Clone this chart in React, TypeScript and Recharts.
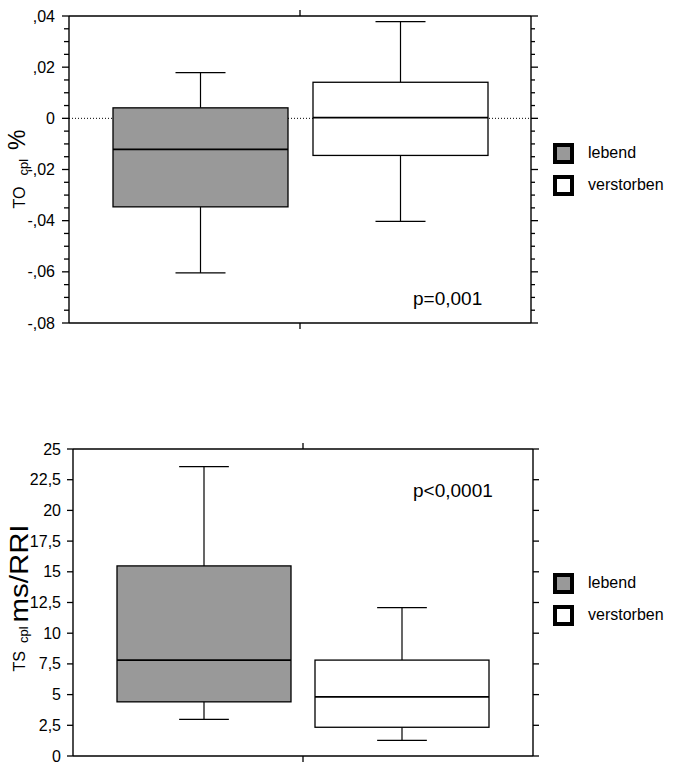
import React from 'react'
import { ComposedChart, Bar, XAxis, YAxis, CartesianGrid } from 'recharts'

const groups = ['lebend', 'verstorben']
const boxFills = ['#999999', '#ffffff']

// TO cpl % (upper chart)
const toMin = [-0.0604, -0.0403]
const toQ1 = [-0.0346, -0.0145]
const toMed = [-0.0121, 0.0003]
const toQ3 = [0.0041, 0.0141]
const toMax = [0.0179, 0.0378]
const toTicks = [0.04, 0.02, 0, -0.02, -0.04, -0.06, -0.08]
const toTickLabels = [',04', ',02', '0', '-,02', '-,04', '-,06', '-,08']
const toP = 'p=0,001'

// TS cpl ms/RRI (lower chart)
const tsMin = [2.99, 1.28]
const tsQ1 = [4.41, 2.34]
const tsMed = [7.81, 4.81]
const tsQ3 = [15.48, 7.81]
const tsMax = [23.56, 12.08]
const tsTicks = [0, 2.5, 5, 7.5, 10, 12.5, 15, 17.5, 20, 22.5, 25]
const tsTickLabels = ['0', '2,5', '5', '7,5', '10', '12,5', '15', '17,5', '20', '22,5', '25']
const tsP = 'p<0,0001'

const FONT = '"Liberation Sans", Arial, sans-serif'

const makeRows = (mn: number[], q1: number[], md: number[], q3: number[], mx: number[]) =>
  groups.map((g, i) => ({ group: g, min: mn[i], q1: q1[i], med: md[i], q3: q3[i], max: mx[i], fill: boxFills[i] }))

const toRows = makeRows(toMin, toQ1, toMed, toQ3, toMax)
const tsRows = makeRows(tsMin, tsQ1, tsMed, tsQ3, tsMax)

// quarter steps between the labelled ticks of the upper chart
const toAllTicks = Array.from({ length: 25 }, (_, i) => +(-0.08 + i * 0.005).toFixed(3))

const BoxShape = (props: any) => {
  const { x, y, width, height, payload } = props
  const top = Math.min(y, y + height)
  const h = Math.abs(height)
  const k = h / (payload.q3 - payload.q1)
  const py = (v: number) => top + (payload.q3 - v) * k
  const cx = x + width / 2
  const cap = (width * 2) / 7
  const s = { stroke: '#000', strokeWidth: 1.2 }
  return (
    <g>
      <line x1={cx} x2={cx} y1={py(payload.max)} y2={top} {...s} />
      <line x1={cx - cap / 2} x2={cx + cap / 2} y1={py(payload.max)} y2={py(payload.max)} {...s} />
      <line x1={cx} x2={cx} y1={top + h} y2={py(payload.min)} {...s} />
      <line x1={cx - cap / 2} x2={cx + cap / 2} y1={py(payload.min)} y2={py(payload.min)} {...s} />
      <rect x={x} y={top} width={width} height={h} fill={payload.fill} stroke="#000" strokeWidth={1.3} />
      <line x1={x} x2={x + width} y1={py(payload.med)} y2={py(payload.med)} stroke="#000" strokeWidth={1.7} />
    </g>
  )
}

const makeTick =
  (side: 'left' | 'right', majors: number[], labels: string[] | null, tickSize: number, majorLen: number, minorLen: number, gap: number) =>
  (props: any) => {
    const { x, y, payload } = props
    const i = majors.findIndex((m) => Math.abs(m - payload.value) < 1e-9)
    const len = i >= 0 ? majorLen : minorLen
    const axisX = side === 'left' ? x + tickSize : x - tickSize
    const x2 = side === 'left' ? axisX - len : axisX + len
    return (
      <g>
        <line x1={axisX} x2={x2} y1={y} y2={y} stroke="#000" strokeWidth={1.3} />
        {labels && i >= 0 && (
          <text x={axisX - tickSize - gap} y={y} dy={5.5} textAnchor="end" fontSize={16} fontFamily={FONT} fill="#000">
            {labels[i]}
          </text>
        )}
      </g>
    )
  }

// short tick on the boundary between two groups (band centre + half a band), drawn outwards
const makeMidTick = (side: 'top' | 'bottom', size: number) => (props: any) => {
  const { x, y, payload, index, visibleTicksCount } = props
  if (index >= visibleTicksCount - 1 || !payload?.offset) return <g />
  const mx = x + payload.offset
  const edge = side === 'bottom' ? y - size : y + size
  return <line x1={mx} x2={mx} y1={edge} y2={y} stroke="#000" strokeWidth={1.3} />
}

const TitleTO = () => (
  <text transform="rotate(-90)" x={-169} y={25} textAnchor="middle" fontFamily={FONT} fill="#000">
    <tspan fontSize={16}>TO</tspan>
    <tspan fontSize={13} dx={11} dy={3}>cpl</tspan>
    <tspan fontSize={23} dx={9} dy={-3}>%</tspan>
  </text>
)

const TitleTS = () => (
  <text transform="rotate(-90)" x={-218} y={25} textAnchor="middle" fontFamily={FONT} fill="#000">
    <tspan fontSize={16}>TS</tspan>
    <tspan fontSize={13} dx={8} dy={3}>cpl</tspan>
    <tspan fontSize={26} dx={4} textLength={98} lengthAdjust="spacingAndGlyphs">ms/RRI</tspan>
  </text>
)

const LegendBox = ({ top }: { top: number }) => (
  <div style={{ position: 'absolute', left: 553, top, fontFamily: FONT, fontSize: 16, lineHeight: 1 }}>
    {groups.map((g, i) => (
      <div key={g} style={{ position: 'relative', height: 32 }}>
        <div
          style={{
            position: 'absolute',
            left: 0,
            top: 0,
            width: 13,
            height: 13,
            border: '4px solid #000',
            background: boxFills[i],
          }}
        />
        <div style={{ position: 'absolute', left: 35, top: 2 }}>{g}</div>
      </div>
    ))}
  </div>
)

const PText = ({ top, text }: { top: number; text: string }) => (
  <div style={{ position: 'absolute', left: 413, top, fontFamily: FONT, fontSize: 19, lineHeight: 1 }}>{text}</div>
)

const axisLine = { stroke: '#000', strokeWidth: 1.4 }

export default function App() {
  return (
    <div style={{ position: 'absolute', left: 0, top: 0, width: 676, height: 763, background: '#fff' }}>
      <div style={{ position: 'absolute', left: 0, top: 0 }}>
        <ComposedChart width={676} height={350} data={toRows} margin={{ top: 15, right: 135, bottom: 26, left: 9 }}>
          <CartesianGrid xAxisId="cat" vertical={false} horizontalValues={[0]} stroke="#000" strokeDasharray="1 2" />
          <XAxis xAxisId="cat" dataKey="group" type="category" padding={{ left: 31, right: 31 }} height={1} tickSize={6} tickMargin={0} tickLine={false} tick={makeMidTick('bottom', 6)} axisLine={axisLine} />
          <XAxis xAxisId="catTop" orientation="top" dataKey="group" type="category" padding={{ left: 31, right: 31 }} height={1} tickSize={6} tickMargin={0} tickLine={false} tick={makeMidTick('top', 6)} axisLine={axisLine} />
          <YAxis
            domain={[-0.08, 0.04]}
            allowDataOverflow
            ticks={toAllTicks}
            interval={0}
            width={60}
            tickSize={7}
            tickMargin={0}
            tickLine={false}
            axisLine={axisLine}
            tick={makeTick('left', toTicks, toTickLabels, 7, 7, 5, 7)}
            label={<TitleTO />}
          />
          <YAxis
            yAxisId="right"
            orientation="right"
            domain={[-0.08, 0.04]}
            allowDataOverflow
            ticks={toAllTicks}
            interval={0}
            width={10}
            tickSize={7}
            tickMargin={0}
            tickLine={false}
            axisLine={axisLine}
            tick={makeTick('right', toTicks, null, 7, 7, 4, 0)}
          />
          <Bar xAxisId="cat" dataKey={(d: any) => [d.q1, d.q3]} barSize={175} shape={BoxShape} isAnimationActive={false} />
        </ComposedChart>
      </div>
      <LegendBox top={143} />
      <PText top={289} text={toP} />

      <div style={{ position: 'absolute', left: 0, top: 380 }}>
        <ComposedChart width={676} height={383} data={tsRows} margin={{ top: 68, right: 133, bottom: 6, left: 13 }}>
          <XAxis xAxisId="cat" dataKey="group" type="category" padding={{ left: 32, right: 32 }} height={1} tickSize={6} tickMargin={0} tickLine={false} tick={makeMidTick('bottom', 6)} axisLine={axisLine} />
          <XAxis xAxisId="catTop" orientation="top" dataKey="group" type="category" padding={{ left: 32, right: 32 }} height={1} tickSize={6} tickMargin={0} tickLine={false} tick={makeMidTick('top', 6)} axisLine={axisLine} />
          <YAxis
            domain={[0, 25]}
            allowDataOverflow
            ticks={tsTicks}
            interval={0}
            width={60}
            tickSize={6}
            tickMargin={0}
            tickLine={false}
            axisLine={axisLine}
            tick={makeTick('left', tsTicks, tsTickLabels, 6, 6, 6, 6)}
            label={<TitleTS />}
          />
          <YAxis
            yAxisId="right"
            orientation="right"
            domain={[0, 25]}
            allowDataOverflow
            ticks={tsTicks}
            interval={0}
            width={10}
            tickSize={6}
            tickMargin={0}
            tickLine={false}
            axisLine={axisLine}
            tick={makeTick('right', tsTicks, null, 6, 6, 6, 0)}
          />
          <Bar xAxisId="cat" dataKey={(d: any) => [d.q1, d.q3]} barSize={174} shape={BoxShape} isAnimationActive={false} />
        </ComposedChart>
      </div>
      <LegendBox top={573} />
      <PText top={481} text={tsP} />
    </div>
  )
}
